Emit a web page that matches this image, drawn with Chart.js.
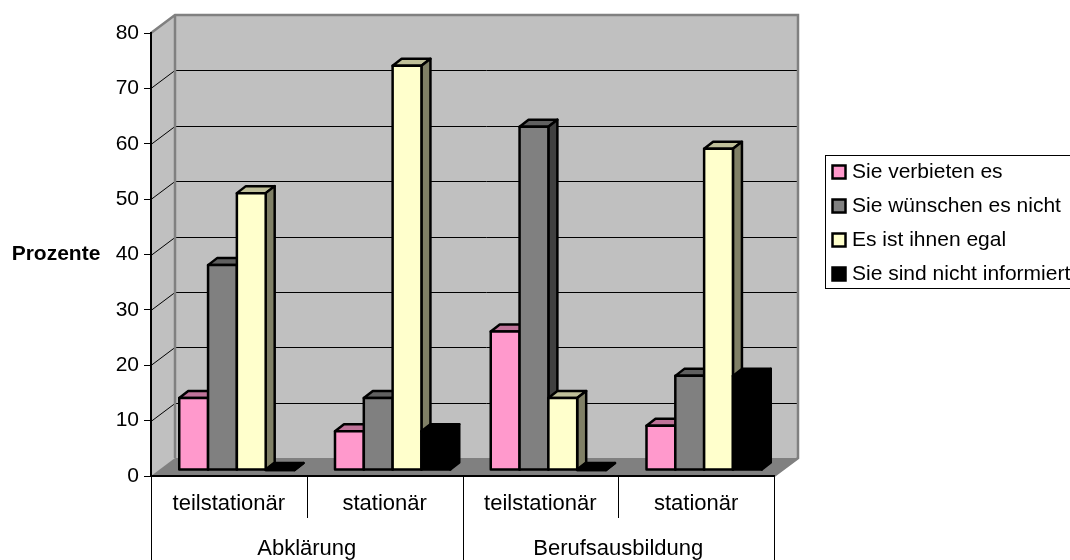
<!DOCTYPE html>
<html>
<head>
<meta charset="utf-8">
<script src="https://cdn.jsdelivr.net/npm/chart.js@4/dist/chart.umd.js"></script>
<style>
  html, body { margin: 0; padding: 0; background: #fff; overflow: hidden; }
  #wrap { width: 1070px; height: 560px; }
</style>
</head>
<body>
<div id="wrap"><canvas id="chart" width="1070" height="560"></canvas></div>
<script>
const categories = ['teilstationär', 'stationär', 'teilstationär', 'stationär'];
const groups = ['Abklärung', 'Berufsausbildung'];
const yTicks = [0, 10, 20, 30, 40, 50, 60, 70, 80];

const verbieten = [13, 7, 25, 8];
const wuenschen = [37, 13, 62, 17];
const egal = [50, 73, 13, 58];
const nichtInformiert = [0, 7, 0, 17];

const seriesNames = ['Sie verbieten es', 'Sie wünschen es nicht', 'Es ist ihnen egal', 'Sie sind nicht informiert'];
const seriesFill = ['#FF99CC', '#808080', '#FFFFCC', '#000000'];
const seriesTop = ['#BF7399', '#606060', '#BFBF99', '#000000'];
const seriesSide = ['#804D66', '#404040', '#808066', '#000000'];

const FONT = '"Liberation Sans", Arial, sans-serif';
const WALL_DX = 24, WALL_DY = -18;   // depth of the box
const BAR_SHIFT_X = 8, BAR_SHIFT_Y = -6;   // bars stand a little inside the box
const BAR_DX = 9, BAR_DY = -7;   // depth of one bar

// draws one series: top and side, library front faces, then the outline of the front
function drawBars(chart, i) {
    const { ctx } = chart;
    const meta = chart.getDatasetMeta(i);
    const props = meta.data.map(bar => bar.getProps(['x', 'y', 'base', 'width'], true));
    ctx.save();
    ctx.translate(BAR_SHIFT_X, BAR_SHIFT_Y);
    ctx.lineWidth = 2.5;
    ctx.strokeStyle = '#000';
    ctx.lineJoin = 'round';
    props.forEach(p => {
        const l = p.x - p.width / 2, r = p.x + p.width / 2;
        ctx.fillStyle = seriesTop[i];
        ctx.beginPath();
        ctx.moveTo(l, p.y);
        ctx.lineTo(l + BAR_DX, p.y + BAR_DY);
        ctx.lineTo(r + BAR_DX, p.y + BAR_DY);
        ctx.lineTo(r, p.y);
        ctx.closePath();
        ctx.fill();
        ctx.stroke();
        ctx.fillStyle = seriesSide[i];
        ctx.beginPath();
        ctx.moveTo(r, p.y);
        ctx.lineTo(r + BAR_DX, p.y + BAR_DY);
        ctx.lineTo(r + BAR_DX, p.base + BAR_DY);
        ctx.lineTo(r, p.base);
        ctx.closePath();
        ctx.fill();
        ctx.stroke();
    });
    meta.controller.draw();
    props.forEach(p => {
        ctx.strokeRect(p.x - p.width / 2, p.y, p.width, p.base - p.y);
    });
    ctx.restore();
}

const boxPlugin = {
    id: 'box',
    // walls, floor and gridlines behind the bars
    beforeDatasetsDraw(chart) {
        const { ctx, chartArea: a, scales: { y } } = chart;
        ctx.save();
        ctx.fillStyle = '#C0C0C0';
        ctx.beginPath();
        ctx.moveTo(a.left, a.top);
        ctx.lineTo(a.left + WALL_DX, a.top + WALL_DY);
        ctx.lineTo(a.right + WALL_DX, a.top + WALL_DY);
        ctx.lineTo(a.right + WALL_DX, a.bottom + WALL_DY);
        ctx.lineTo(a.left, a.bottom);
        ctx.closePath();
        ctx.fill();

        ctx.fillStyle = '#808080';
        ctx.beginPath();
        ctx.moveTo(a.left, a.bottom);
        ctx.lineTo(a.left + WALL_DX, a.bottom + WALL_DY);
        ctx.lineTo(a.right + WALL_DX, a.bottom + WALL_DY);
        ctx.lineTo(a.right, a.bottom);
        ctx.closePath();
        ctx.fill();

        ctx.strokeStyle = '#000';
        ctx.lineWidth = 1;
        yTicks.slice(1, -1).forEach(t => {
            const py = Math.round(y.getPixelForValue(t)) + 0.5;
            ctx.beginPath();
            ctx.moveTo(a.left, py);
            ctx.lineTo(a.left + WALL_DX, py + WALL_DY);
            ctx.lineTo(a.right + WALL_DX, py + WALL_DY);
            ctx.stroke();
        });

        ctx.strokeStyle = '#808080';
        ctx.lineWidth = 2.5;
        ctx.beginPath();
        ctx.moveTo(a.left, a.top);
        ctx.lineTo(a.left + WALL_DX, a.top + WALL_DY);
        ctx.lineTo(a.right + WALL_DX, a.top + WALL_DY);
        ctx.lineTo(a.right + WALL_DX, a.bottom + WALL_DY);
        ctx.lineTo(a.right, a.bottom);
        ctx.moveTo(a.left + WALL_DX, a.top + WALL_DY);
        ctx.lineTo(a.left + WALL_DX, a.bottom + WALL_DY);
        ctx.stroke();
        ctx.restore();
    },
    // the library paints the last series first, here the bars must overlap left to right
    beforeDatasetDraw() {
        return false;
    },
    afterDatasetsDraw(chart) {
        chart.data.datasets.forEach((d, i) => drawBars(chart, i));
    },
    // multi level category lines, group names, axis title, legend
    afterDraw(chart) {
        const { ctx, chartArea: a } = chart;
        const slot = (a.right - a.left) / categories.length;
        ctx.save();
        ctx.strokeStyle = '#000';
        ctx.lineWidth = 1;
        ctx.beginPath();
        categories.concat('').forEach((c, i) => {
            const px = Math.round(a.left + slot * i) + 0.5;
            ctx.moveTo(px, a.bottom);
            ctx.lineTo(px, i % 2 ? 518 : 560);
        });
        ctx.stroke();

        ctx.fillStyle = '#000';
        ctx.textAlign = 'center';
        ctx.textBaseline = 'middle';
        ctx.font = '22px ' + FONT;
        groups.forEach((g, i) => {
            ctx.fillText(g, a.left + slot * (i * 2 + 1), 549);
        });

        ctx.font = 'bold 21px ' + FONT;
        ctx.fillText('Prozente', 56, 254);

        // legend
        ctx.strokeStyle = '#000';
        ctx.lineWidth = 1;
        ctx.strokeRect(825.5, 155.5, 260, 133);
        ctx.textAlign = 'left';
        ctx.font = '21px ' + FONT;
        seriesNames.forEach((name, i) => {
            const py = 172 + i * 34;
            ctx.fillStyle = seriesFill[i];
            ctx.lineWidth = 2.5;
            ctx.fillRect(832.5, py - 6.5, 13, 13);
            ctx.strokeRect(832.5, py - 6.5, 13, 13);
            ctx.fillStyle = '#000';
            ctx.fillText(name, 852, py);
        });
        ctx.restore();
    }
};

new Chart(document.getElementById('chart'), {
    type: 'bar',
    data: {
        labels: categories,
        datasets: [verbieten, wuenschen, egal, nichtInformiert].map((values, i) => ({
            label: seriesNames[i],
            data: values,
            backgroundColor: seriesFill[i],
            borderWidth: 0,
            categoryPercentage: 0.74,
            barPercentage: 1
        }))
    },
    options: {
        responsive: false,
        animation: false,
        events: [],
        layout: { padding: { top: 33, right: 296, left: 0, bottom: 0 } },
        plugins: { legend: { display: false }, title: { display: false }, tooltip: { enabled: false } },
        scales: {
            x: {
                grid: { display: false, drawTicks: false },
                border: { color: '#000', width: 2, z: 1 },
                ticks: {
                    color: '#000',
                    font: { family: FONT, size: 22 },
                    padding: 15,
                    maxRotation: 0
                },
                afterFit: s => { s.height = 84; }
            },
            y: {
                min: 0,
                max: 80,
                grid: { drawOnChartArea: false, color: '#000', tickLength: 7, z: 1 },
                border: { color: '#000', width: 2, z: 1 },
                ticks: {
                    color: '#000',
                    stepSize: 10,
                    font: { family: FONT, size: 21 },
                    padding: 5
                },
                afterFit: s => { s.width = 151; }
            }
        }
    },
    plugins: [boxPlugin]
});
</script>
</body>
</html>
